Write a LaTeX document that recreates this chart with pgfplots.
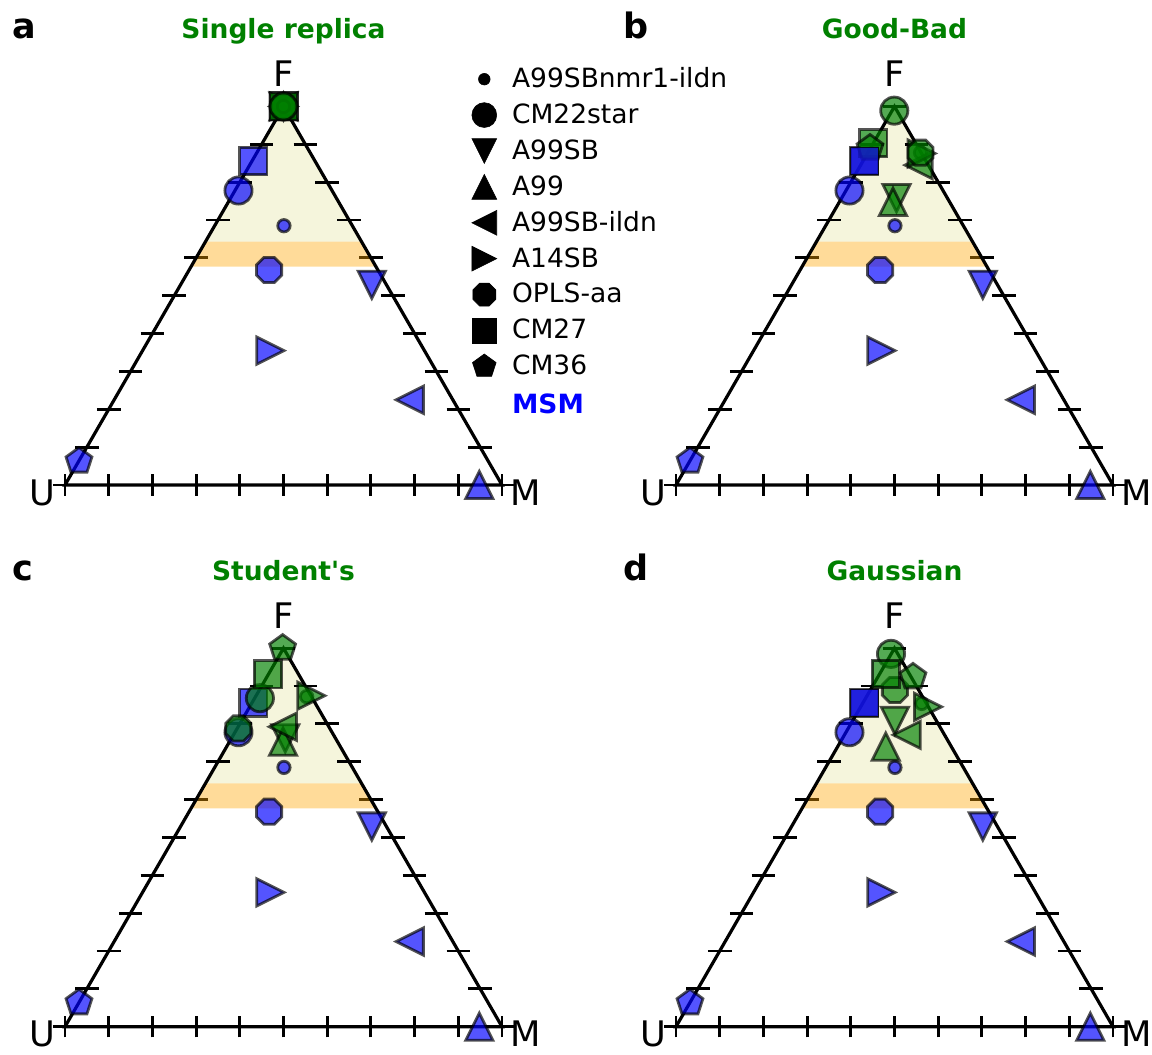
\documentclass[border=0pt]{standalone}
\usepackage{fontspec}
\setmainfont{DejaVu Sans}
\usepackage{pgfplots}
\pgfplotsset{compat=1.18}
\definecolor{mgreen}{RGB}{0,128,0}
\definecolor{beig}{RGB}{245,245,220}
\definecolor{mblue}{RGB}{0,0,255}
\definecolor{dblue}{RGB}{20,20,215}
\definecolor{morange}{RGB}{255,165,0}

\pgfdeclareplotmark{mtu}{%
  \pgfpathmoveto{\pgfqpoint{0pt}{\pgfplotmarksize}}%
  \pgfpathlineto{\pgfqpoint{-\pgfplotmarksize}{-\pgfplotmarksize}}%
  \pgfpathlineto{\pgfqpoint{\pgfplotmarksize}{-\pgfplotmarksize}}%
  \pgfpathclose\pgfusepathqfillstroke}
\pgfdeclareplotmark{mtd}{%
  \pgfpathmoveto{\pgfqpoint{0pt}{-\pgfplotmarksize}}%
  \pgfpathlineto{\pgfqpoint{-\pgfplotmarksize}{\pgfplotmarksize}}%
  \pgfpathlineto{\pgfqpoint{\pgfplotmarksize}{\pgfplotmarksize}}%
  \pgfpathclose\pgfusepathqfillstroke}
\pgfdeclareplotmark{mtl}{%
  \pgfpathmoveto{\pgfqpoint{-\pgfplotmarksize}{0pt}}%
  \pgfpathlineto{\pgfqpoint{\pgfplotmarksize}{\pgfplotmarksize}}%
  \pgfpathlineto{\pgfqpoint{\pgfplotmarksize}{-\pgfplotmarksize}}%
  \pgfpathclose\pgfusepathqfillstroke}
\pgfdeclareplotmark{mtr}{%
  \pgfpathmoveto{\pgfqpoint{\pgfplotmarksize}{0pt}}%
  \pgfpathlineto{\pgfqpoint{-\pgfplotmarksize}{\pgfplotmarksize}}%
  \pgfpathlineto{\pgfqpoint{-\pgfplotmarksize}{-\pgfplotmarksize}}%
  \pgfpathclose\pgfusepathqfillstroke}
\pgfdeclareplotmark{oct}{%
  \pgfpathmoveto{\pgfpointpolar{22.5}{\pgfplotmarksize}}%
  \pgfpathlineto{\pgfpointpolar{67.5}{\pgfplotmarksize}}%
  \pgfpathlineto{\pgfpointpolar{112.5}{\pgfplotmarksize}}%
  \pgfpathlineto{\pgfpointpolar{157.5}{\pgfplotmarksize}}%
  \pgfpathlineto{\pgfpointpolar{202.5}{\pgfplotmarksize}}%
  \pgfpathlineto{\pgfpointpolar{247.5}{\pgfplotmarksize}}%
  \pgfpathlineto{\pgfpointpolar{292.5}{\pgfplotmarksize}}%
  \pgfpathlineto{\pgfpointpolar{337.5}{\pgfplotmarksize}}%
  \pgfpathclose\pgfusepathqfillstroke}

\pgfplotsset{
  tern/.style={anchor=south west, x=218.5pt, y=189.25pt, xmin=0, xmax=1, ymin=0, ymax=1, hide axis, clip=false, unbounded coords=jump},
  msm/.style={only marks, mark size=6.8pt, mark options={fill=mblue, draw=black, opacity=0.67, line width=1.4pt}},
  grn/.style={only marks, mark size=6.8pt, mark options={fill=mgreen, draw=black, opacity=0.67, line width=1.4pt}},
  leg/.style={only marks, mark size=6.2pt, mark options={fill=black, draw=black, line width=0.3pt}},
  tck/.style={black, line width=1.45pt, mark=none},
}

\newcommand{\tribg}[2]{%
  \addplot[fill=beig, draw=none] coordinates {(0.3215,0.643) (0.6785,0.643) (0.5,1) (0.3215,0.643)};
  \addplot[tck] coordinates {(0,-0.028)(0,0.028)(nan,nan)(0.1,-0.028)(0.1,0.028)(nan,nan)(0.2,-0.028)(0.2,0.028)(nan,nan)(0.3,-0.028)(0.3,0.028)(nan,nan)(0.4,-0.028)(0.4,0.028)(nan,nan)(0.5,-0.028)(0.5,0.028)(nan,nan)(0.6,-0.028)(0.6,0.028)(nan,nan)(0.7,-0.028)(0.7,0.028)(nan,nan)(0.8,-0.028)(0.8,0.028)(nan,nan)(0.9,-0.028)(0.9,0.028)(nan,nan)(1,-0.028)(1,0.028)};
  \addplot[tck] coordinates {(-0.027,0)(0.027,0)(nan,nan)(0.023,0.1)(0.077,0.1)(nan,nan)(0.073,0.2)(0.127,0.2)(nan,nan)(0.123,0.3)(0.177,0.3)(nan,nan)(0.173,0.4)(0.227,0.4)(nan,nan)(0.223,0.5)(0.277,0.5)(nan,nan)(0.273,0.6)(0.327,0.6)(nan,nan)(0.323,0.7)(0.377,0.7)(nan,nan)(0.373,0.8)(0.427,0.8)(nan,nan)(0.423,0.9)(0.477,0.9)(nan,nan)(0.473,1)(0.527,1)};
  \addplot[tck] coordinates {(0.973,0)(1.027,0)(nan,nan)(0.923,0.1)(0.977,0.1)(nan,nan)(0.873,0.2)(0.927,0.2)(nan,nan)(0.823,0.3)(0.877,0.3)(nan,nan)(0.773,0.4)(0.827,0.4)(nan,nan)(0.723,0.5)(0.777,0.5)(nan,nan)(0.673,0.6)(0.727,0.6)(nan,nan)(0.623,0.7)(0.677,0.7)(nan,nan)(0.573,0.8)(0.627,0.8)(nan,nan)(0.523,0.9)(0.577,0.9)};
  \addplot[fill=morange, fill opacity=0.4, draw=none] coordinates {(0.2885,0.577) (0.7115,0.577) (0.6785,0.643) (0.3215,0.643) (0.2885,0.577)};
  \node[anchor=base, inner sep=0pt, font=\fontsize{17.6}{20}\selectfont] at (axis cs:0.5,1.052) {F};
  \node[anchor=base, inner sep=0pt, font=\fontsize{17.6}{20}\selectfont] at (axis cs:-0.0515,-0.053) {U};
  \node[anchor=base, inner sep=0pt, font=\fontsize{17.6}{20}\selectfont] at (axis cs:1.054,-0.053) {M};
  \node[anchor=base, inner sep=0pt, text=mgreen, font=\fontsize{13.25}{16}\selectfont\bfseries] at (axis cs:0.5,1.1783) {#2};
  \node[anchor=base west, inner sep=0pt, font=\fontsize{17.5}{20}\selectfont\bfseries] at (axis cs:-0.122,1.1783) {#1};
}
\newcommand{\triedge}{%
  \addplot[black, line width=1.6pt, mark=none, line join=miter] coordinates {(0.5,0) (1,0) (0.5,1) (0,0) (0.5,0)};
}
\newcommand{\msmset}{%
  \addplot[msm, mark=*, mark size=3.1pt] coordinates {(0.501,0.685)};
  \addplot[msm, mark=*] coordinates {(0.397,0.778)};
  \addplot[msm, mark=mtd] coordinates {(0.702,0.529)};
  \addplot[msm, mark=mtu] coordinates {(0.948,0.0)};
  \addplot[msm, mark=mtl] coordinates {(0.789,0.225)};
  \addplot[msm, mark=mtr] coordinates {(0.470,0.355)};
  \addplot[msm, mark=oct] coordinates {(0.467,0.568)};
  \addplot[msm, mark=square*] coordinates {(0.431,0.856)};
  \addplot[msm, mark=pentagon*] coordinates {(0.032,0.063)};
}
% order: small circle, circle, down, up, left, right, octagon, square, pentagon
\newcommand{\grnset}[9]{%
  \addplot[grn, mark=*, mark size=3.1pt] coordinates {#1};
  \addplot[grn, mark=*] coordinates {#2};
  \addplot[grn, mark=mtd] coordinates {#3};
  \addplot[grn, mark=mtu] coordinates {#4};
  \addplot[grn, mark=mtl] coordinates {#5};
  \addplot[grn, mark=mtr] coordinates {#6};
  \addplot[grn, mark=oct] coordinates {#7};
  \addplot[grn, mark=square*] coordinates {#8};
  \addplot[grn, mark=pentagon*] coordinates {#9};
}

\begin{document}
\begin{tikzpicture}
\path[use as bounding box] (0,0) rectangle (576pt,527.5pt);

% ---------------- a
\begin{axis}[tern, at={(32.5pt,285pt)}]
\tribg{a}{Single replica}
\msmset
\addplot[grn, mark=pentagon*] coordinates {(0.5,1)};
\addplot[grn, mark=mtd] coordinates {(0.5,1)};
\addplot[grn, mark=mtu] coordinates {(0.5,1)};
\addplot[grn, mark=mtl] coordinates {(0.5,1)};
\addplot[grn, mark=mtr] coordinates {(0.5,1)};
\addplot[grn, mark=square*] coordinates {(0.5,1)};
\addplot[grn, mark=*, mark size=3.1pt] coordinates {(0.5,1)};
\addplot[grn, mark=oct] coordinates {(0.5,1)};
\addplot[grn, mark=*] coordinates {(0.5,1)};
\triedge
% legend
\addplot[leg, mark=*, mark size=2.9pt] coordinates {(0.9595,1.0721)};
\addplot[leg, mark=*] coordinates {(0.9595,0.9773)};
\addplot[leg, mark=mtd] coordinates {(0.9595,0.8824)};
\addplot[leg, mark=mtu] coordinates {(0.9595,0.7876)};
\addplot[leg, mark=mtl] coordinates {(0.9595,0.6927)};
\addplot[leg, mark=mtr] coordinates {(0.9595,0.5979)};
\addplot[leg, mark=oct] coordinates {(0.9595,0.5030)};
\addplot[leg, mark=square*] coordinates {(0.9595,0.4082)};
\addplot[leg, mark=pentagon*] coordinates {(0.9595,0.3133)};
\begin{scope}[every node/.style={anchor=base west, inner sep=0pt, font=\fontsize{13.25}{16}\selectfont}]
\node at (axis cs:1.0222,1.0501) {A99SBnmr1-ildn};
\node at (axis cs:1.0222,0.9553) {CM22star};
\node at (axis cs:1.0222,0.8604) {A99SB};
\node at (axis cs:1.0222,0.7656) {A99};
\node at (axis cs:1.0222,0.6707) {A99SB-ildn};
\node at (axis cs:1.0222,0.5759) {A14SB};
\node at (axis cs:1.0222,0.4810) {OPLS-aa};
\node at (axis cs:1.0222,0.3862) {CM27};
\node at (axis cs:1.0222,0.2913) {CM36};
\node[text=mblue, font=\fontsize{13.25}{16}\selectfont\bfseries] at (axis cs:1.0222,0.1900) {MSM};
\end{scope}
\end{axis}

% ---------------- b
\begin{axis}[tern, at={(338pt,285pt)}]
\tribg{b}{Good-Bad}
\msmset
\grnset{(0.5595,0.878)}{(0.4995,0.989)}{(0.5046,0.758)}{(0.4966,0.748)}{(0.555,0.845)}{(0.562,0.876)}{(0.5595,0.878)}{(0.4515,0.903)}{(0.444,0.89)}
\addplot[msm, mark=square*, mark options={fill=dblue, opacity=0.8}] coordinates {(0.431,0.856)};
\triedge
\end{axis}

% ---------------- c
\begin{axis}[tern, at={(32.5pt,14.15pt)}]
\tribg{c}{Student\textquotesingle s}
\msmset
\grnset{(0.553,0.872)}{(0.446,0.868)}{(0.504,0.762)}{(0.499,0.753)}{(0.4985,0.7926)}{(0.5637,0.8745)}{(0.3966,0.788)}{(0.4645,0.931)}{(0.498,1.0)}
\triedge
\end{axis}

% ---------------- d
\begin{axis}[tern, at={(338pt,14.15pt)}]
\tribg{d}{Gaussian}
\msmset
\grnset{(0.5623,0.854)}{(0.492,0.985)}{(0.501,0.808)}{(0.480,0.74)}{(0.528,0.771)}{(0.5767,0.845)}{(0.501,0.8895)}{(0.48,0.932)}{(0.5423,0.924)}
\addplot[msm, mark=square*, mark options={fill=dblue, opacity=0.8}] coordinates {(0.431,0.856)};
\triedge
\end{axis}
\end{tikzpicture}
\end{document}
